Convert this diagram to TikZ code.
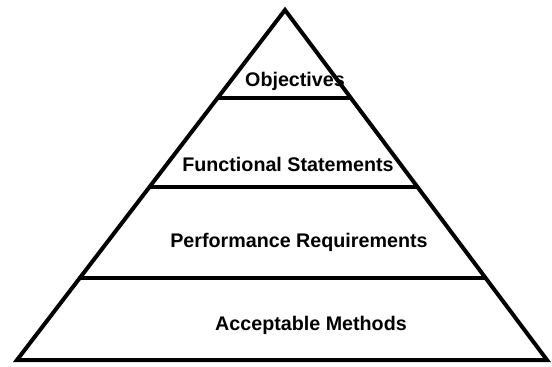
\documentclass[tikz,border=0pt]{standalone}
\usepackage{fontspec}
\setmainfont{Liberation Sans}
\usetikzlibrary{calc}
\begin{document}
\begin{tikzpicture}[x=1pt,y=-1pt,
  lbl/.style={anchor=base,inner sep=0pt,font=\bfseries\fontsize{19.7}{22}\selectfont},
  edge/.style={line width=4pt,black,line join=miter}]
\useasboundingbox (0,0) rectangle (552,367);
\coordinate (A) at (285,10);
\coordinate (BL) at (17,360);
\coordinate (BR) at (547,360);
% labels
\node[lbl] (obj) at (295,86.7) {Objectives};
\node[lbl] (fun) at (288,171.7) {Functional Statements};
\node[lbl] (per) at (299,247.7) {Performance Requirements};
\node[lbl] (acc) at (311,330) {Acceptable Methods};
% pyramid
\draw[edge] (A) -- (BR) -- (BL) -- cycle;
\coordinate (L1) at ($(A)!0.2514!(BL)$);
\coordinate (R1) at ($(A)!0.2514!(BR)$);
\coordinate (L2) at ($(A)!0.5057!(BL)$);
\coordinate (R2) at ($(A)!0.5057!(BR)$);
\coordinate (L3) at ($(A)!0.7657!(BL)$);
\coordinate (R3) at ($(A)!0.7657!(BR)$);
\draw[edge] (L1) -- (R1);
\draw[edge] (L2) -- (R2);
\draw[edge] (L3) -- (R3);
\end{tikzpicture}
\end{document}
